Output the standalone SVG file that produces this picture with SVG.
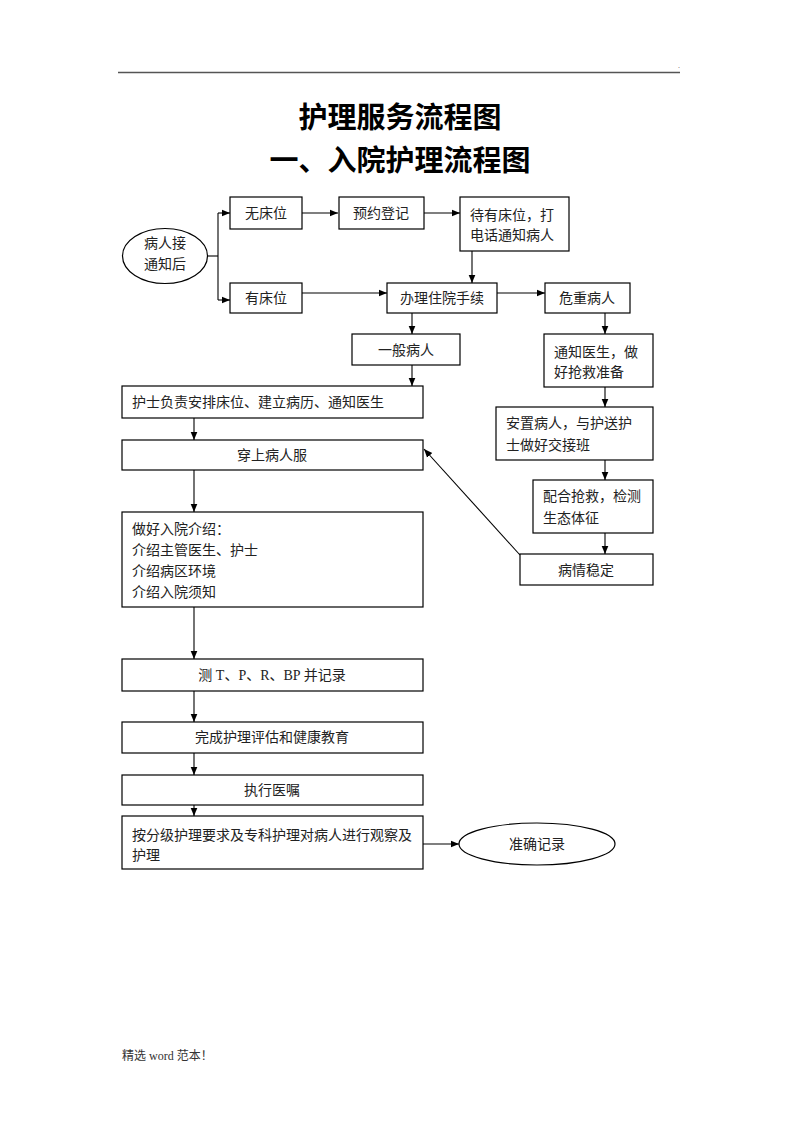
<svg xmlns="http://www.w3.org/2000/svg" width="800" height="1132" viewBox="0 0 800 1132">
<defs>
<marker id="ah" markerWidth="9" markerHeight="8" refX="8.5" refY="4" orient="auto" markerUnits="userSpaceOnUse">
<path d="M0,0.5 L8.5,4 L0,7.5 z" fill="#000"/>
</marker>
<style>
.b{fill:#fff;stroke:#000;stroke-width:1.2}
.t{font-family:"Liberation Serif","Noto Sans CJK SC",serif;font-size:14px;fill:#222}
.c{text-anchor:middle}
.h{font-family:"Liberation Serif","Noto Sans CJK SC",serif;font-size:29px;font-weight:bold;text-anchor:middle;fill:#000}
.l{fill:none;stroke:#000;stroke-width:1.1}
.a{fill:none;stroke:#000;stroke-width:1.1;marker-end:url(#ah)}
</style>
</defs>
<rect width="800" height="1132" fill="#fff"/>
<line x1="118" y1="72.5" x2="680" y2="72.5" stroke="#555" stroke-width="1.5"/>
<text x="678" y="68" font-family="Liberation Serif,serif" font-size="8" fill="#555">.</text>
<text class="h" x="400" y="128">护理服务流程图</text>
<text class="h" x="400" y="171">一、入院护理流程图</text>

<g id="connectors">
<polyline class="l" points="207,256 218,256"/>
<line class="l" x1="218" y1="213" x2="218" y2="300"/>
<line class="a" x1="218" y1="213" x2="230" y2="213"/>
<line class="a" x1="218" y1="300" x2="230" y2="300"/>
<line class="a" x1="302" y1="213" x2="338" y2="213"/>
<line class="a" x1="424" y1="213" x2="460" y2="213"/>
<line class="a" x1="472" y1="251" x2="472" y2="283"/>
<line class="a" x1="302" y1="293" x2="387" y2="293"/>
<line class="a" x1="497" y1="293" x2="545" y2="293"/>
<line class="a" x1="412" y1="313" x2="412" y2="334"/>
<line class="a" x1="412" y1="365" x2="412" y2="386"/>
<line class="a" x1="605" y1="313" x2="605" y2="334"/>
<line class="a" x1="605" y1="387" x2="605" y2="407"/>
<line class="a" x1="605" y1="460" x2="605" y2="480"/>
<line class="a" x1="605" y1="533" x2="605" y2="554"/>
<line class="a" x1="520" y1="555" x2="424" y2="449"/>
<line class="a" x1="194" y1="418" x2="194" y2="440"/>
<line class="a" x1="194" y1="470" x2="194" y2="512"/>
<line class="a" x1="194" y1="607" x2="194" y2="659"/>
<line class="a" x1="194" y1="691" x2="194" y2="722"/>
<line class="a" x1="194" y1="753" x2="194" y2="775"/>
<line class="a" x1="194" y1="805" x2="194" y2="816"/>
<line class="a" x1="423" y1="844" x2="459" y2="844"/>
</g>

<g id="n-start"><ellipse class="b" cx="165" cy="256" rx="42.5" ry="27.5"/><text class="t c" x="165" y="248">病人接</text><text class="t c" x="165" y="269">通知后</text></g>
<g id="n-nobed"><rect class="b" x="230" y="197" width="72" height="32"/><text class="t c" x="266" y="218">无床位</text></g>
<g id="n-reserve"><rect class="b" x="339" y="197" width="85" height="32"/><text class="t c" x="381" y="218">预约登记</text></g>
<g id="n-wait"><rect class="b" x="460" y="197" width="109" height="54"/><text class="t" x="470" y="220">待有床位，打</text><text class="t" x="470" y="240">电话通知病人</text></g>
<g id="n-bed"><rect class="b" x="230" y="283" width="72" height="30"/><text class="t c" x="266" y="303">有床位</text></g>
<g id="n-admit"><rect class="b" x="387" y="283" width="110" height="30"/><text class="t c" x="442" y="303">办理住院手续</text></g>
<g id="n-critical"><rect class="b" x="545" y="283" width="85" height="30"/><text class="t c" x="587" y="303">危重病人</text></g>
<g id="n-general"><rect class="b" x="352" y="334" width="108" height="31"/><text class="t c" x="406" y="355">一般病人</text></g>
<g id="n-notify"><rect class="b" x="544" y="334" width="109" height="53"/><text class="t" x="554" y="357">通知医生，做</text><text class="t" x="554" y="377">好抢救准备</text></g>
<g id="n-nurse"><rect class="b" x="122" y="386" width="301" height="32"/><text class="t" x="132" y="407">护士负责安排床位、建立病历、通知医生</text></g>
<g id="n-place"><rect class="b" x="496" y="407" width="157" height="53"/><text class="t" x="506" y="428">安置病人，与护送护</text><text class="t" x="506" y="450">士做好交接班</text></g>
<g id="n-clothes"><rect class="b" x="122" y="440" width="301" height="30"/><text class="t c" x="272" y="460">穿上病人服</text></g>
<g id="n-rescue"><rect class="b" x="533" y="480" width="120" height="53"/><text class="t" x="543" y="501">配合抢救，检测</text><text class="t" x="543" y="523">生态体征</text></g>
<g id="n-stable"><rect class="b" x="520" y="554" width="133" height="31"/><text class="t c" x="586" y="575">病情稳定</text></g>
<g id="n-intro"><rect class="b" x="122" y="512" width="301" height="95"/><text class="t" x="132" y="534">做好入院介绍：</text><text class="t" x="132" y="555">介绍主管医生、护士</text><text class="t" x="132" y="576">介绍病区环境</text><text class="t" x="132" y="597">介绍入院须知</text></g>
<g id="n-measure"><rect class="b" x="122" y="659" width="301" height="32"/><text class="t c" x="272" y="680">测 T、P、R、BP 并记录</text></g>
<g id="n-assess"><rect class="b" x="122" y="722" width="301" height="31"/><text class="t c" x="272" y="742">完成护理评估和健康教育</text></g>
<g id="n-order"><rect class="b" x="122" y="775" width="301" height="30"/><text class="t c" x="272" y="795">执行医嘱</text></g>
<g id="n-observe"><rect class="b" x="122" y="816" width="301" height="53"/><text class="t" x="132" y="840">按分级护理要求及专科护理对病人进行观察及</text><text class="t" x="132" y="860">护理</text></g>
<g id="n-record"><ellipse class="b" cx="537" cy="844" rx="78" ry="21"/><text class="t c" x="537" y="849">准确记录</text></g>

<text x="122" y="1060" font-family="Liberation Serif,'Noto Sans CJK SC',serif" font-size="12" fill="#333">精选 word 范本！</text>
</svg>
